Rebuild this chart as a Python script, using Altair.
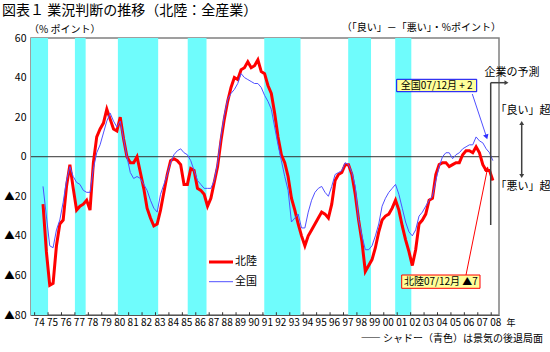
import altair as alt
import pandas as pd

FONT = "Noto Sans CJK JP"
W, H = 468, 277

# ---- data (quarterly Tankan DI, first survey Aug 1974, last point = Mar 2008 forecast)
hokuriku = [-24, -48, -65, -64, -45, -34, -32, -15, -4, -16,
            -27, -25, -24, -22, -27, -3, 10, 14, 17, 24,
            19, 14, 13, 20, 9, 0, -3, -3, 0, -8,
            -16, -26, -31, -35, -34, -27, -18, -9, -2, -1,
            -2, -4, -14, -14, -6, -7, -16, -17, -19, -25,
            -21, -13, -5, 8, 19, 28, 35, 40, 39, 44,
            45, 48, 45, 46, 49, 43, 42, 36, 32, 22,
            10, 1, -3, -10, -21, -27, -34, -40, -45, -40,
            -37, -34, -31, -28, -29, -31, -24, -12, -9, -8,
            -4, -4, -9, -19, -32, -43, -58, -55, -52, -46,
            -38, -32, -30, -29, -26, -22, -27, -35, -42, -48,
            -55, -47, -34, -32, -29, -22, -21, -9, -4, -3,
            -3, -5, -4, -3, -3, 1, 3, 3, 2, 5,
            2, -4, -7, -7, -12]
zenkoku = [-15, -30, -45, -46, -37, -32, -23, -12, -5, -10,
           -13, -14, -17, -18, -18, -6, 2, 6, 12, 18,
           22, 18, 15, 18, 9, 0, -8, -11, -10, -11,
           -14, -17, -22, -26, -28, -19, -14, -9, -3, 1,
           3, 4, 2, 1, -2, -7, -12, -14, -16, -16,
           -16, -12, -3, 10, 21, 29, 32, 34, 37, 42,
           40, 39, 38, 37, 37, 35, 31, 28, 24, 15,
           6, -2, -10, -17, -33, -31, -29, -36, -36, -28,
           -22, -18, -16, -15, -18, -20, -15, -9, -8, -7,
           -3, -4, -8, -15, -32, -40, -47, -47, -45, -40,
           -34, -25, -21, -18, -16, -14, -19, -26, -33, -38,
           -40, -37, -30, -28, -25, -22, -20, -12, -5, 0,
           2, 2, -1, 1, 2, 4, 5, 6, 6, 10,
           8, 7, 4, 2, -2]
first_survey = 1974.625
quarter_step = 0.25
recession_start = [1973.73, 1977.0, 1980.2, 1985.4, 1991.1, 1997.35, 2000.85]
recession_end = [1975.0, 1977.8, 1983.2, 1986.8, 1993.8, 1999.05, 2002.05]
year_ticks = list(range(1974, 2009))
y_ticks = [-80, -60, -40, -20, 0, 20, 40, 60]
x_domain = [1973.73, 2008.58]
y_domain = [-80, 60]

t = [first_survey + quarter_step * i for i in range(len(hokuriku))]
df = pd.DataFrame({"t": t, "hokuriku": hokuriku, "zenkoku": zenkoku})
rec = pd.DataFrame({"s": recession_start, "e": recession_end})
ticks_df = pd.DataFrame({"year": year_ticks, "base": [-80] * len(year_ticks),
                         "top": [-78.6] * len(year_ticks)})
one = pd.DataFrame({"k": [0]})

xs = alt.Scale(domain=x_domain, nice=False, zero=False)
ys = alt.Scale(domain=y_domain, nice=False, zero=False)
x_axis = alt.Axis(values=year_ticks, labelExpr="substring(toString(datum.value), 2, 4)",
                  ticks=False, grid=False, domainColor="#555555", labelFont=FONT,
                  labelFontSize=10, labelColor="#000000", labelPadding=2, labelOffset=4,
                  labelFlush=False, labelOverlap=False, labelBound=False, title=None)
y_axis = alt.Axis(values=y_ticks,
                  labelExpr="datum.value < 0 ? '▲' + (-datum.value) : '' + datum.value",
                  ticks=False, grid=False, domainColor="#555555", labelFont=FONT,
                  labelFontSize=10.5, labelColor="#000000", labelPadding=5,
                  labelOverlap=False, labelFlush=False, labelBound=False,
                  labelSeparation=0, title=None)

shade = alt.Chart(rec).mark_rect(color="#6ffcfc", clip=True).encode(
    x=alt.X("s:Q", scale=xs, axis=x_axis), x2="e:Q",
    y=alt.value(0), y2=alt.value(H))

zero = alt.Chart(one).mark_rule(color="#333333", strokeWidth=1).encode(
    y=alt.Y("k:Q", scale=ys, axis=y_axis))

ticks = alt.Chart(ticks_df).mark_rule(color="#333333", strokeWidth=1).encode(
    x=alt.X("year:Q", scale=xs, axis=x_axis),
    y=alt.Y("base:Q", scale=ys, axis=y_axis), y2="top:Q")

red = alt.Chart(df).mark_line(color="#ff0000", strokeWidth=3, clip=True).encode(
    x=alt.X("t:Q", scale=xs, axis=x_axis), y=alt.Y("hokuriku:Q", scale=ys, axis=y_axis))
blue = alt.Chart(df).mark_line(color="#5050ff", strokeWidth=1, clip=True).encode(
    x=alt.X("t:Q", scale=xs, axis=x_axis), y=alt.Y("zenkoku:Q", scale=ys, axis=y_axis))


def txt(s, x, y, size=10.0, align="center", color="#000000"):
    return alt.Chart(one).mark_text(text=s, align=align, baseline="middle", fontSize=size,
                                    font=FONT, color=color).encode(
        x=alt.value(x), y=alt.value(y))


def seg(x1, y1, x2, y2, color, w=1.0):
    return alt.Chart(one).mark_rule(color=color, strokeWidth=w).encode(
        x=alt.value(x1), y=alt.value(y1), x2=alt.value(x2), y2=alt.value(y2))


def head(x, y, angle, color, size=30):
    return alt.Chart(one).mark_point(shape="triangle-up", filled=True, color=color, size=size,
                                     angle=angle, opacity=1, strokeWidth=0).encode(
        x=alt.value(x), y=alt.value(y))


def box(x1, y1, x2, y2, stroke):
    return alt.Chart(one).mark_rect(fill="#ffff99", stroke=stroke, strokeWidth=1).encode(
        x=alt.value(x1), x2=alt.value(x2), y=alt.value(y1), y2=alt.value(y2))


DARK = "#404040"
annotations = [
    # title and unit labels
    txt("図表１ 業況判断の推移（北陸：全産業）", -29, -27.5, 14, "left"),
    txt("（% ポイント）", -2, -8.5, 10, "left"),
    txt("（「良い」－「悪い」・%ポイント）", 470, -10.5, 10, "right"),
    # legend
    seg(178, 224, 202, 224, "#ff0000", 3),
    txt("北陸", 204, 224, 11, "left"),
    seg(178, 243.7, 202, 243.7, "#5050ff", 1),
    txt("全国", 204, 243.7, 11, "left"),
    # national callout
    seg(441.3, 56, 455.2, 98, "#5050ff", 1),
    head(455.5, 99, 162, "#3030ff", 32),
    box(365.7, 41.3, 445.7, 53.7, "#0000ff"),
    txt("全国07/12月  + 2", 405.7, 47.6, 10),
    # hokuriku callout
    seg(435, 237, 456, 133, "#ff0000", 1),
    head(456.3, 131, 12, "#ff0000", 32),
    box(370.7, 237, 449, 250.3, "#ff0000"),
    txt("北陸07/12月 ▲7", 409.9, 243.8, 10),
    # forecast marker
    seg(459.7, 44.7, 459.7, 187, DARK, 1.5),
    seg(459.7, 44.7, 474, 44.7, DARK, 1.5),
    head(475.5, 44.7, 90, DARK, 22),
    txt("企業の予測", 481, 35, 11),
    txt("「良い」超", 492, 73, 11),
    seg(490.7, 86, 490.7, 137, DARK, 1.5),
    head(490.7, 85, 0, DARK, 24),
    head(490.7, 138, 180, DARK, 24),
    txt("「悪い」超", 492, 149, 11),
    # axis unit and caption
    txt("年", 480, 285, 9),
    txt("―― シャドー（青色）は景気の後退局面", 512, 301, 10, "right"),
]

chart = alt.layer(shade, zero, ticks, red, blue, *annotations).properties(
    width=W, height=H,
    padding={"left": 31, "top": 38, "right": 51, "bottom": 37},
    autosize=alt.AutoSizeParams(type="none"),
    background="#ffffff",
).configure(font=FONT).configure_view(stroke="#808080", strokeWidth=1.5)

chart.save("out.html", embed_options={"renderer": "svg", "actions": False})
